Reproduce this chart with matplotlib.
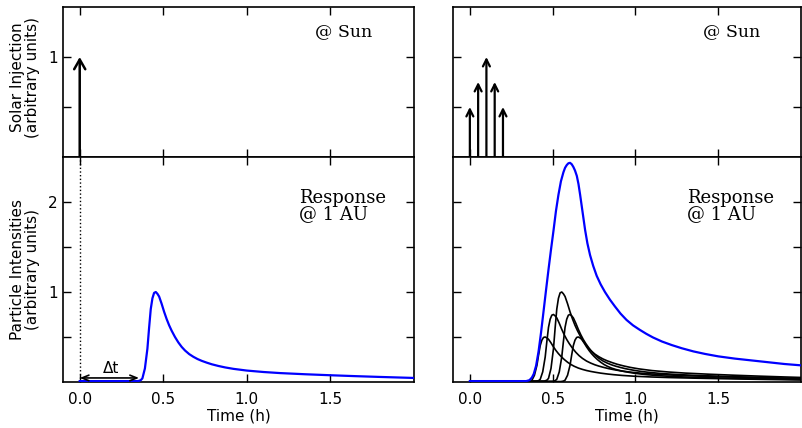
import numpy as np
import matplotlib
matplotlib.use('Agg')
import matplotlib.pyplot as plt

# single-injection response at 1 AU
resp_t = [0.00, 0.35, 0.365, 0.375, 0.39, 0.405, 0.415, 0.425, 0.435, 0.445, 0.455,
          0.465, 0.475, 0.49, 0.505, 0.52, 0.535, 0.55, 0.57, 0.59, 0.61, 0.63,
          0.655, 0.68, 0.705, 0.73, 0.76, 0.79, 0.83, 0.87, 0.92, 1.00, 1.10,
          1.20, 1.35, 1.50, 1.65, 1.80, 2.00, 2.10, 2.20]
resp_i = [0.01, 0.01, 0.02, 0.04, 0.15, 0.37, 0.60, 0.81, 0.93, 0.99, 1.00,
          0.98, 0.95, 0.87, 0.78, 0.70, 0.63, 0.57, 0.50, 0.44, 0.39, 0.35,
          0.31, 0.28, 0.255, 0.235, 0.215, 0.197, 0.178, 0.162, 0.146, 0.127, 0.111,
          0.099, 0.086, 0.075, 0.065, 0.056, 0.045, 0.041, 0.038]

# injections at the sun (right upper panel)
inj_t = [0.00, 0.05, 0.10, 0.15, 0.20]
inj_a = [0.50, 0.75, 1.00, 0.75, 0.50]

# combined response (blue curve, right lower panel)
sum_t = [0.00, 0.34, 0.36, 0.375, 0.386, 0.40, 0.415, 0.43, 0.446, 0.46, 0.475,
         0.49, 0.505, 0.52, 0.535, 0.55, 0.565, 0.575, 0.585, 0.595, 0.605, 0.615,
         0.625, 0.635, 0.646, 0.656, 0.666, 0.676, 0.686, 0.696, 0.71, 0.726,
         0.745, 0.766, 0.79, 0.816, 0.846, 0.876, 0.91, 0.946, 0.985, 1.026,
         1.066, 1.106, 1.16, 1.22, 1.28, 1.35, 1.42, 1.50, 1.60, 1.70, 1.80,
         1.90, 2.00]
sum_i = [0.01, 0.01, 0.02, 0.05, 0.09, 0.18, 0.34, 0.55, 0.80, 1.02, 1.25,
         1.47, 1.68, 1.90, 2.08, 2.23, 2.33, 2.38, 2.41, 2.43, 2.435, 2.42,
         2.39, 2.35, 2.29, 2.20, 2.08, 1.95, 1.82, 1.69, 1.54, 1.41,
         1.29, 1.18, 1.085, 1.00, 0.915, 0.84, 0.76, 0.69, 0.63, 0.58,
         0.535, 0.495, 0.45, 0.41, 0.375, 0.34, 0.312, 0.285, 0.26, 0.24, 0.22,
         0.20, 0.185]

xticks = [0.0, 0.5, 1.0, 1.5]
xlabels = ['0.0', '0.5', '1.0', '1.5']

BLUE = '#0000ff'
serif = 'DejaVu Serif'

fig = plt.figure(figsize=(8.02, 4.28), dpi=100)

W, H = 802.0, 428.0
def box(x0, x1, y0, y1):
    return [x0 / W, 1 - y1 / H, (x1 - x0) / W, (y1 - y0) / H]

ax_tl = fig.add_axes(box(63, 414, 7, 157))
ax_bl = fig.add_axes(box(63, 414, 157, 382))
ax_tr = fig.add_axes(box(453.3, 801, 7, 157))
ax_br = fig.add_axes(box(453.3, 801, 157, 382))

for ax in [ax_tl, ax_bl, ax_tr, ax_br]:
    ax.set_xlim(-0.1, 2.0)
    ax.set_xticks(xticks)
    ax.set_xticklabels(xlabels)
    ax.tick_params(direction='in', top=True, right=True, length=6, width=1.0,
                   labelsize=11)
    ax.tick_params(axis='x', pad=7)
    ax.tick_params(axis='y', pad=4)
    for s in ax.spines.values():
        s.set_linewidth(1.2)

for ax in [ax_tl, ax_tr]:
    ax.set_ylim(0, 1.5)
    ax.set_yticks([0.5, 1.0])
    ax.set_yticklabels(['', '1'])
    ax.tick_params(axis='x', labelbottom=False)
    ax.text(1.41, 1.25, '@ Sun', fontsize=12.5, family=serif, va='center')

for ax in [ax_bl, ax_br]:
    ax.set_ylim(0, 2.5)
    ax.set_yticks([0.5, 1.0, 1.5, 2.0])
    ax.set_yticklabels(['', '1', '', '2'])
    ax.set_xlabel('Time (h)', fontsize=11, labelpad=1)
    ax.text(1.31, 2.15, 'Response\n@ 1 AU', fontsize=13, family=serif,
            va='top', linespacing=0.9)

ax_tr.set_yticklabels([])
ax_br.set_yticklabels([])

ax_tl.set_ylabel('Solar Injection\n(arbitrary units)', fontsize=11, linespacing=1.0)
ax_tl.yaxis.set_label_coords(-0.066, 0.53)
ax_bl.set_ylabel('Particle Intensities\n(arbitrary units)', fontsize=11, linespacing=1.0)
ax_bl.yaxis.set_label_coords(-0.066, 0.5)

# injection arrows
ax_tl.annotate('', xy=(inj_t[0], 1.0), xytext=(inj_t[0], 0),
               arrowprops=dict(arrowstyle='->,head_length=0.7,head_width=0.4',
                               lw=1.8, color='black', shrinkA=0, shrinkB=0))
for t, a in zip(inj_t, inj_a):
    ax_tr.annotate('', xy=(t, a), xytext=(t, 0),
                   arrowprops=dict(arrowstyle='->,head_length=0.5,head_width=0.25',
                                   lw=1.6, color='black', shrinkA=0, shrinkB=0))

# left lower: single response
ax_bl.axvline(0, color='black', linestyle=':', lw=1.0)
ax_bl.plot(resp_t, resp_i, color=BLUE, lw=1.6, zorder=3, solid_joinstyle='round')
ax_bl.annotate('', xy=(0.0, 0.045), xytext=(0.355, 0.045),
               arrowprops=dict(arrowstyle='<->,head_length=0.5,head_width=0.2',
                               lw=1.2, color='black', shrinkA=0, shrinkB=0))
ax_bl.text(0.19, 0.15, '\u0394t', fontsize=11, ha='center', va='center')

# right lower: shifted responses and their sum
rt = np.array(resp_t)
ri = np.array(resp_i)
for t, a in zip(inj_t, inj_a):
    ax_br.plot(rt + t, ri * a, color='black', lw=1.2, zorder=2,
               solid_joinstyle='round')
ax_br.plot(sum_t, sum_i, color=BLUE, lw=1.6, zorder=3, solid_joinstyle='round')

fig.savefig('out.png', dpi=100)
